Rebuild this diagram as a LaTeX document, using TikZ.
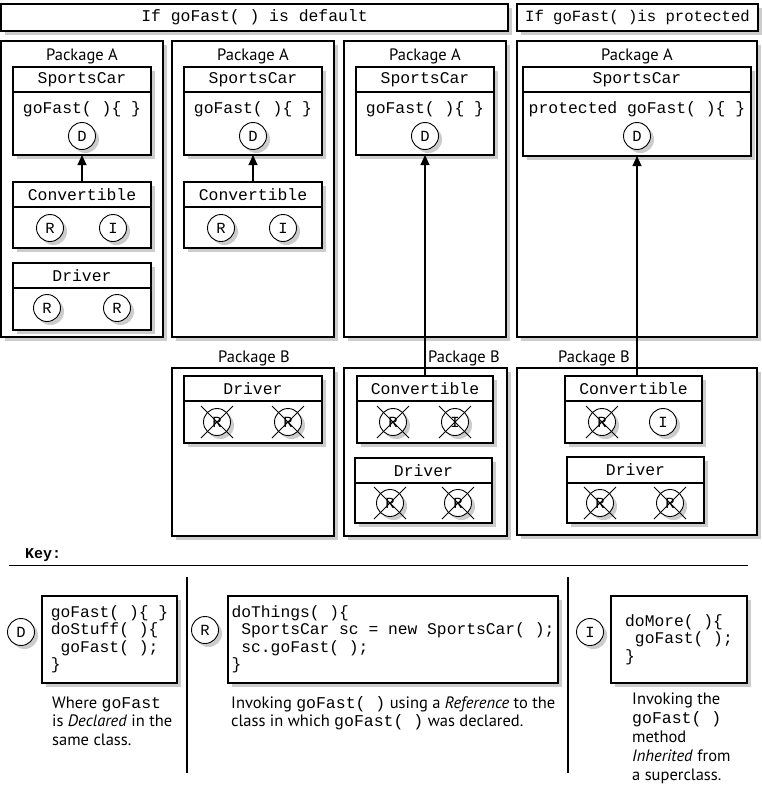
\documentclass[tikz,border=0pt]{standalone}
\usepackage{fontspec}
\setmainfont{PT Sans}
\setmonofont{Liberation Mono}
\usetikzlibrary{arrows.meta,shadows}

\tikzset{
  boxshadow/.style={drop shadow={shadow xshift=3.5pt,shadow yshift=-3.5pt,fill=black!20,opacity=1}},
  pkgbox/.style={draw,line width=1.1pt,fill=white,boxshadow,anchor=north west,inner sep=0pt,outer sep=0pt},
  clsbox/.style={draw,line width=1.2pt,fill=white,boxshadow,anchor=north west,inner sep=0pt,outer sep=0pt},
  clsline/.style={line width=1.1pt},
  monotext/.style={font=\fontsize{16.4}{17.5}\selectfont\ttfamily,inner sep=0pt},
  pkglabel/.style={font=\fontsize{16.5}{19}\selectfont,inner sep=0pt},
  usedot/.style={circle,draw,line width=0.9pt,fill=white,boxshadow,minimum size=27pt,inner sep=0pt,
    font=\fontsize{15.5}{16}\selectfont\ttfamily},
  crossline/.style={line width=0.9pt},
  inherit/.style={line width=1.1pt,-{Triangle[length=10pt,width=9pt]}},
  codebox/.style={draw,line width=1.2pt,fill=white,boxshadow,inner sep=0pt,outer sep=0pt,align=left,
    font=\fontsize{16.3}{17.5}\selectfont\ttfamily},
  % a multi-line caption is placed by the baseline of its last line
  caption/.style={anchor=base west,inner sep=0pt,align=left,font=\fontsize{16.5}{18.8}\selectfont},
  divider/.style={line width=1.2pt},
}

% package frame: name, x1, y1, x2, y2
\newcommand\pkgframe[5]{%
  \pgfmathsetmacro\boxwd{#4-#2}\pgfmathsetmacro\boxht{#5-#3}%
  \node[pkgbox,minimum width=\boxwd pt,minimum height=\boxht pt] (#1) at (#2,#3) {};}
% class frame: name, x1, y1, x2, y of divider, y2, title
\newcommand\classframe[7]{%
  \pgfmathsetmacro\boxwd{#4-#2}\pgfmathsetmacro\boxht{#6-#3}%
  \node[clsbox,minimum width=\boxwd pt,minimum height=\boxht pt] (#1) at (#2,#3) {};
  \draw[clsline] (#2,#5) -- (#4,#5);
  \node[monotext] (#1-title) at ({(#2+#4)/2},{(#3+#5)/2}) {#7};}
% usage mark: name, x, y, letter
\newcommand\usedotat[4]{\node[usedot] (#1) at (#2,#3) {#4};}
% usage mark that is not allowed: crossed out
\newcommand\nousedotat[4]{%
  \node[usedot] (#1) at (#2,#3) {#4};
  \draw[crossline] ([shift={(-16,-16)}]#1.center) -- ([shift={(16,16)}]#1.center);
  \draw[crossline] ([shift={(16,-16)}]#1.center) -- ([shift={(-16,16)}]#1.center);}
\newcommand\ind{\hspace*{0.6em}}

\begin{document}
\begin{tikzpicture}[x=1pt,y=-1pt]
\useasboundingbox (0,0) rectangle (762,785);

% ---- headers
\node[pkgbox,minimum width=507pt,minimum height=27pt] (hdr1) at (1,4) {};
\node[monotext] (hdr1-text) at (hdr1.center) {If goFast( ) is default};
\node[pkgbox,minimum width=241pt,minimum height=27pt] (hdr2) at (517,4) {};
\node[monotext,font=\fontsize{15.6}{17}\selectfont\ttfamily] (hdr2-text) at (hdr2.center) {If goFast( )is protected};

% ---- package frames
\pkgframe{pA1}{1}{41}{163}{337}
\pkgframe{pA2}{172}{41}{334}{337}
\pkgframe{pA3}{344}{41}{506}{337}
\pkgframe{pA4}{517}{41}{757}{337}
\pkgframe{pB2}{172}{368}{334}{536}
\pkgframe{pB3}{344}{368}{507}{536}
\pkgframe{pB4}{517}{368}{757}{535}

\node[pkglabel] (pA1-label) at (82,56) {Package A};
\node[pkglabel] (pA2-label) at (253,56) {Package A};
\node[pkglabel] (pA3-label) at (425,56) {Package A};
\node[pkglabel] (pA4-label) at (637,56) {Package A};
\node[pkglabel] (pB2-label) at (254,358) {Package B};
\node[pkglabel] (pB3-label) at (464,358) {Package B};
\node[pkglabel] (pB4-label) at (594,358) {Package B};

% ---- SportsCar classes
\classframe{sc1}{13}{67}{151}{92}{155}{SportsCar}
\classframe{sc2}{184}{67}{322}{92}{155}{SportsCar}
\classframe{sc3}{356}{67}{494}{92}{155}{SportsCar}
\classframe{sc4}{523}{67}{751}{92}{156}{SportsCar}
\node[monotext] (sc1-m) at (82,109) {goFast( )\{ \}};
\node[monotext] (sc2-m) at (253,109) {goFast( )\{ \}};
\node[monotext] (sc3-m) at (425,109) {goFast( )\{ \}};
\node[monotext] (sc4-m) at (637,109) {protected goFast( )\{ \}};
\usedotat{sc1-d}{82}{136}{D}
\usedotat{sc2-d}{253}{136}{D}
\usedotat{sc3-d}{425}{136}{D}
\usedotat{sc4-d}{637}{136}{D}

% ---- Package A, other classes
\classframe{conv1}{13}{182}{151}{207}{248}{Convertible}
\usedotat{conv1-r}{50}{228}{R}
\usedotat{conv1-i}{113}{228}{I}
\classframe{drv1}{13}{263}{151}{288}{330}{Driver}
\usedotat{drv1-r1}{47}{308}{R}
\usedotat{drv1-r2}{117}{308}{R}
\classframe{conv2}{184}{182}{322}{207}{248}{Convertible}
\usedotat{conv2-r}{221}{228}{R}
\usedotat{conv2-i}{283}{228}{I}

% ---- Package B classes
\classframe{drvB2}{184}{376}{322}{401}{443}{Driver}
\nousedotat{drvB2-r1}{217}{422}{R}
\nousedotat{drvB2-r2}{288}{422}{R}
\classframe{convB3}{357}{376}{493}{401}{443}{Convertible}
\nousedotat{convB3-r}{393}{422}{R}
\nousedotat{convB3-i}{455}{422}{I}
\classframe{drvB3}{355}{458}{492}{483}{523}{Driver}
\nousedotat{drvB3-r1}{390}{503}{R}
\nousedotat{drvB3-r2}{458}{503}{R}
\classframe{convB4}{565}{376}{702}{401}{443}{Convertible}
\nousedotat{convB4-r}{602}{422}{R}
\usedotat{convB4-i}{663}{422}{I}
\classframe{drvB4}{567}{457}{704}{483}{523}{Driver}
\nousedotat{drvB4-r1}{600}{503}{R}
\nousedotat{drvB4-r2}{670}{503}{R}

% ---- inheritance
\draw[inherit] (conv1.north) -- (sc1.south);
\draw[inherit] (conv2.north) -- (sc2.south);
\draw[inherit] (convB3.north -| sc3.south) -- (sc3.south);
\draw[inherit] (convB4.north -| sc4.south) -- (sc4.south);

% ---- key
\node[monotext,font=\fontsize{15}{17}\selectfont\ttfamily\bfseries,anchor=west] (key) at (25,555) {Key:};
\coordinate (keyL) at (9,565);
\coordinate (keyR) at (748,565);
\draw[line width=1pt] (keyL) -- (keyR);
\coordinate (div1t) at (187,577);
\coordinate (div1b) at (187,773);
\coordinate (div2t) at (568,577);
\coordinate (div2b) at (568,773);
\draw[divider] (div1t) -- (div1b);
\draw[divider] (div2t) -- (div2b);

\usedotat{keyD}{21}{632}{D}
\node[codebox,minimum width=135pt,minimum height=87pt] (keyD-code) at (109.5,639.5)
  {goFast( )\{ \}\\doStuff( )\{\\\ind goFast( );\\\}};
\node[caption] (keyD-text) at (52,745.6)
  {Where \texttt{goFast}\\is \emph{Declared} in the\\same class.};

\usedotat{keyR}{205}{630}{R}
\node[codebox,minimum width=330pt,minimum height=87pt] (keyR-code) at (393,639.5)
  {doThings( )\{\\\ind SportsCar sc = new SportsCar( );\\\ind sc.goFast( );\\\}};
\node[caption] (keyR-text) at (231,726.8)
  {Invoking \texttt{goFast( )} using a \emph{Reference} to the\\class in which \texttt{goFast( )} was declared.};

\usedotat{keyI}{590}{632}{I}
\node[codebox,minimum width=136pt,minimum height=87pt] (keyI-code) at (679,639.5)
  {doMore( )\{\\\ind goFast( );\\\}};
\node[caption] (keyI-text) at (632,780)
  {Invoking the\\\texttt{goFast( )}\\method\\\emph{Inherited} from\\a superclass.};
\end{tikzpicture}
\end{document}
